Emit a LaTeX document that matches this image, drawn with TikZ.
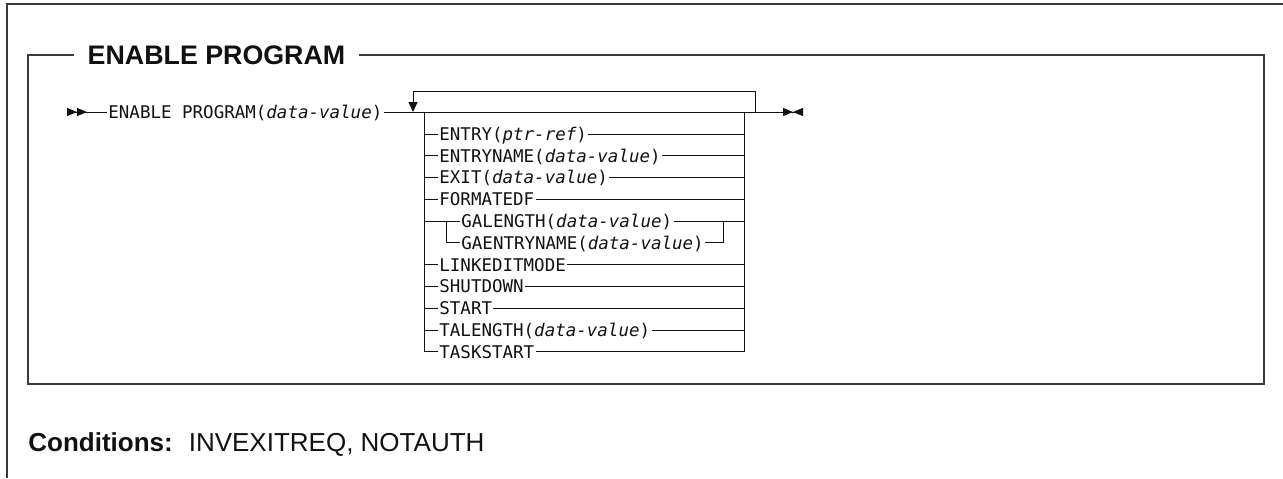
\documentclass[tikz,border=0pt]{standalone}
\usepackage{fontspec}
\setmainfont{Liberation Sans}
\newfontfamily\synfont{DejaVu Sans Mono}
\usetikzlibrary{arrows.meta,positioning}
\definecolor{Ink}{HTML}{111111}
\definecolor{Frame}{HTML}{3A3A3A}
\tikzset{
  kwbox/.style={font=\fontsize{8.75}{10}\synfont,text=Ink,inner xsep=0.5pt,inner ysep=0pt,text height=6.4pt,text depth=0pt,anchor=west},
  headbox/.style={font=\fontsize{13.4}{15}\selectfont\bfseries,text=Ink,inner xsep=6.5pt,inner ysep=0pt,text height=9.6pt,text depth=0pt},
  condbox/.style={font=\fontsize{13}{15}\selectfont,text=Ink,inner sep=0pt,anchor=base west},
  line/.style={draw=Ink,line width=0.5pt},
  boxline/.style={draw=Frame,line width=1pt}
}

\begin{document}
\begin{tikzpicture}[x=0.5pt,y=-0.5pt]
  \useasboundingbox (0,0) rectangle (1283,478);
  \draw[boxline] (7,478) |- (1283,4);
  \node[headbox] (head) at (216.5,55) {ENABLE PROGRAM};
  \coordinate (boxNW) at (28,55);
  \coordinate (boxSE) at (1264,384);
  \draw[boxline] (head.west) -- (boxNW) |- (boxSE) |- (head.east);

  \coordinate (begin) at (67,112);
  \node[kwbox] (cmd) at (107,112) {ENABLE PROGRAM(\textit{data-value})};
  \coordinate (fin) at (803,112);
  \coordinate (railL) at (424,112);
  \coordinate (railR) at (744,112);
  \coordinate (repL) at (413,112);
  \coordinate (repR) at (755,112);
  \coordinate (subL) at (446,221);
  \coordinate (subR) at (723,221);

  \node[kwbox] (entry) at (438,134) {ENTRY(\textit{ptr-ref})};
  \node[kwbox] (entryname) at (438,155.6) {ENTRYNAME(\textit{data-value})};
  \node[kwbox] (exit) at (438,177.4) {EXIT(\textit{data-value})};
  \node[kwbox] (formatedf) at (438,199.2) {FORMATEDF};
  \node[kwbox] (galength) at (460,221) {GALENGTH(\textit{data-value})};
  \node[kwbox] (gaentryname) at (460,242.8) {GAENTRYNAME(\textit{data-value})};
  \node[kwbox] (linkeditmode) at (438,264.6) {LINKEDITMODE};
  \node[kwbox] (shutdown) at (438,286.4) {SHUTDOWN};
  \node[kwbox] (startopt) at (438,308.2) {START};
  \node[kwbox] (talength) at (438,330) {TALENGTH(\textit{data-value})};
  \node[kwbox] (taskstart) at (438,351.8) {TASKSTART};

  \draw[line,{Triangle[length=5pt,width=4pt,reversed]Triangle[length=5pt,width=4pt,reversed]}-] (begin) -- (cmd);
  \draw[line,-{Triangle[length=5pt,width=4pt]Triangle[length=5pt,width=4pt,reversed]}] (cmd) -- (fin);
  \draw[line,-{Triangle[length=5pt,width=4.5pt]}] (repR) -- ++(0,-21) -| (repL);
  \draw[line] (railL) |- (taskstart);
  \draw[line] (railR) |- (taskstart);
  \draw[line] (railL |- entry) -- (entry) -- (railR |- entry);
  \draw[line] (railL |- entryname) -- (entryname) -- (railR |- entryname);
  \draw[line] (railL |- exit) -- (exit) -- (railR |- exit);
  \draw[line] (railL |- formatedf) -- (formatedf) -- (railR |- formatedf);
  \draw[line] (railL |- galength) -- (galength) -- (railR |- galength);
  \draw[line] (subL) |- (gaentryname) -| (subR);
  \draw[line] (railL |- linkeditmode) -- (linkeditmode) -- (railR |- linkeditmode);
  \draw[line] (railL |- shutdown) -- (shutdown) -- (railR |- shutdown);
  \draw[line] (railL |- startopt) -- (startopt) -- (railR |- startopt);
  \draw[line] (railL |- talength) -- (talength) -- (railR |- talength);

  \node[condbox] (cond) at (28,451) {\textbf{Conditions:}\hspace{8pt}INVEXITREQ, NOTAUTH};
\end{tikzpicture}
\end{document}
